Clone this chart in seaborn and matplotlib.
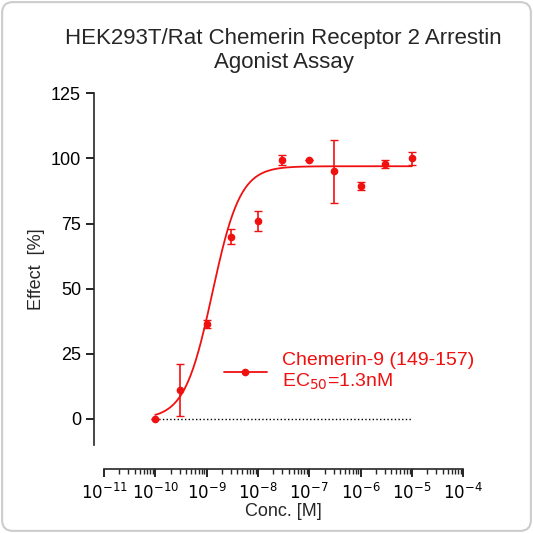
import numpy as np
import matplotlib
matplotlib.use("Agg")
import matplotlib.pyplot as plt
import seaborn as sns
from matplotlib.patches import FancyBboxPatch
from matplotlib.ticker import LogLocator, FixedLocator

sns.set_style("ticks")
plt.rcParams['font.family'] = ['Liberation Sans', 'DejaVu Sans']

conc = [1e-10, 3e-10, 1e-9, 3e-9, 1e-8, 3e-8, 1e-7, 3e-7, 1e-6, 3e-6, 1e-5]
effect = [0, 11, 36.5, 70, 76, 99.5, 99.5, 95, 89.5, 98, 100]
err = [0, 10, 1.5, 3, 4, 2, 0, 12, 1.5, 1.5, 2.5]
# fitted 4PL parameters
ec50, hill, top, bottom = 1.3e-9, 1.6, 97.0, 0.0

red = "#f01010"
fig = plt.figure(figsize=(5.33, 5.33), dpi=100)
fig.patches.append(FancyBboxPatch((0.004, 0.004), 0.992, 0.992, boxstyle="round,pad=0,rounding_size=0.02",
                                  transform=fig.transFigure, fill=False, ec="#cccccc", lw=1.5))
ax = fig.add_axes([0.195, 0.165, 0.674, 0.66])
ax.set_xscale("log")
xs = np.logspace(-10, -5, 300)
ys = bottom + (top - bottom) / (1 + (ec50 / xs) ** hill)
sns.lineplot(x=xs, y=ys, ax=ax, color=red, lw=1.3)
ax.errorbar(conc, effect, yerr=err, fmt="o", color=red, ms=4.5, capsize=3, elinewidth=1.2)
ax.plot([1e-10, 1e-5], [0, 0], ls=":", color="black", lw=1, zorder=0)
ax.set_xlim(10**-11, 1e-4)
ax.set_ylim(-10, 125)
ax.set_yticks([0, 25, 50, 75, 100, 125])
ax.xaxis.set_major_locator(FixedLocator([10.0**k for k in range(-11, -3)]))
ax.xaxis.set_minor_locator(LogLocator(base=10, subs=np.arange(2, 10), numticks=20))
ax.set_xticklabels([f"$10^{{{k}}}$" for k in range(-11, -3)])
ax.spines['top'].set_visible(False)
ax.spines['right'].set_visible(False)
ax.spines['bottom'].set_position(('outward', 17))
ax.spines['left'].set_position(('outward', 7))
for s in ('bottom', 'left'):
    ax.spines[s].set_linewidth(1.2)
ax.tick_params(axis='both', which='major', length=6, width=1.2, labelsize=12, colors="black")
ax.tick_params(axis='x', which='minor', length=3.5, width=1)
ax.tick_params(axis='y', labelsize=13)
ax.set_xlabel("Conc. [M]", fontsize=13, labelpad=1)
ax.set_ylabel("Effect  [%]", fontsize=13)
ax.set_title("HEK293T/Rat Chemerin Receptor 2 Arrestin\nAgonist Assay", fontsize=16, pad=18)
ax.legend([plt.Line2D([], [], color=red, marker="o", ms=4.5, lw=1.3)],
          ["Chemerin-9 (149-157)\nEC$_{50}$=1.3nM"], loc="lower right", bbox_to_anchor=(1.08, 0.1),
          frameon=False, fontsize=14, labelcolor=red, handlelength=2.2)
fig.savefig("out.png", dpi=100)
